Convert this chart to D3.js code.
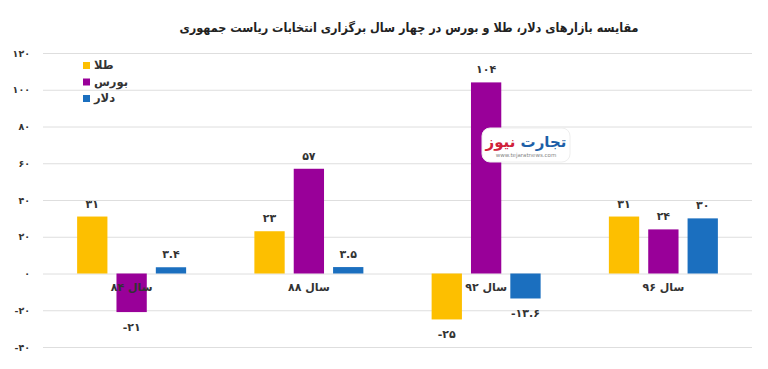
<!DOCTYPE html>
<html>
<head>
<meta charset="utf-8">
<script src="https://cdn.jsdelivr.net/npm/d3@7"></script>
<style>
  body { margin: 0; background: #fff; }
  text { font-family: "DejaVu Sans", sans-serif; }
</style>
</head>
<body>
<div class="chart"></div>
<script>
// data
var years = ["سال ۸۴", "سال ۸۸", "سال ۹۲", "سال ۹۶"];
var seriesNames = ["طلا", "بورس", "دلار"];
var gold = [31, 23, -25, 31];
var bourse = [-21, 57, 104, 24];
var dollar = [3.4, 3.5, -13.6, 30];
var yTicks = [-40, -20, 0, 20, 40, 60, 80, 100, 120];
var colors = ["#FDBF00", "#990099", "#1B6FBF"];

var seriesValues = [gold, bourse, dollar];

// persian digits
function fa(n) {
  return String(n).replace(/\d/g, function(c) { return "۰۱۲۳۴۵۶۷۸۹"[+c]; });
}

var W = 768, H = 369;
var svg = d3.select(".chart").append("svg")
    .attr("width", W)
    .attr("height", H);

var x0 = d3.scaleBand().domain(years).range([43, 752]).padding(0);
var x1 = d3.scaleBand().domain(seriesNames).range([0, 109]).paddingInner(0.23);
var y = d3.scaleLinear().domain([-40, 120]).range([347, 53]);

// title
svg.append("text")
  .attr("x", 409).attr("y", 32)
  .attr("text-anchor", "middle")
  .attr("direction", "rtl")
  .style("font-family", "'DejaVu Sans Condensed', 'DejaVu Sans'")
  .style("font-stretch", "condensed")
  .style("font-size", "12.5px")
  .style("font-weight", "bold")
  .attr("fill", "#222")
  .text("مقایسه بازارهای دلار، طلا و بورس در چهار سال برگزاری انتخابات ریاست جمهوری");

// grid + y tick labels
var yAxis = svg.append("g")
  .attr("transform", "translate(43,0)")
  .call(d3.axisLeft(y).tickValues(yTicks).tickSize(-709).tickFormat(fa));
yAxis.select(".domain").remove();
yAxis.selectAll("line").attr("stroke", "#dedede").attr("stroke-width", 1);
yAxis.selectAll("text")
  .attr("x", -13)
  .attr("fill", "#333")
  .style("font-size", "9.5px")
  .style("font-weight", "bold")
  .style("font-family", "DejaVu Sans");

// bars
var rows = [];
years.forEach(function(yr, i) {
  seriesNames.forEach(function(s, j) {
    rows.push({ year: yr, name: s, value: seriesValues[j][i], color: colors[j] });
  });
});

svg.selectAll(".bar").data(rows).enter().append("rect")
  .attr("class", "bar")
  .attr("x", function(d) { return x0(d.year) + (x0.bandwidth() - 109) / 2 + x1(d.name); })
  .attr("width", x1.bandwidth())
  .attr("y", function(d) { return y(Math.max(0, d.value)); })
  .attr("height", function(d) { return Math.abs(y(d.value) - y(0)); })
  .attr("fill", function(d) { return d.color; });

// value labels
svg.selectAll(".lbl").data(rows).enter().append("text")
  .attr("class", "lbl")
  .attr("x", function(d) { return x0(d.year) + (x0.bandwidth() - 109) / 2 + x1(d.name) + x1.bandwidth() / 2; })
  .attr("y", function(d) { return d.value >= 0 ? y(d.value) - 9 : y(d.value) + 19; })
  .attr("text-anchor", "middle")
  .attr("direction", "ltr")
  .attr("fill", "#333")
  .style("font-size", "11px")
  .style("font-weight", "bold")
  .text(function(d) { return fa(d.value); });

// category labels at zero line
var xAxis = svg.append("g")
  .attr("transform", "translate(0," + y(0) + ")")
  .call(d3.axisBottom(x0).tickSize(0).tickPadding(10));
xAxis.select(".domain").remove();
xAxis.selectAll("text")
  .attr("fill", "#333")
  .attr("direction", "rtl")
  .style("font-size", "11px")
  .style("font-weight", "bold")
  .style("font-family", "DejaVu Sans");

// legend
var legend = svg.append("g").attr("transform", "translate(83,62)");
seriesNames.forEach(function(s, i) {
  legend.append("rect")
    .attr("x", 0).attr("y", i * 16.5)
    .attr("width", 7).attr("height", 7)
    .attr("fill", colors[i]);
  legend.append("text")
    .attr("x", 11).attr("y", i * 16.5 + 7)
    .attr("fill", "#333")
    .style("font-size", "11.5px")
    .style("font-weight", "bold")
    .text(s);
});

// watermark
var wm = svg.append("g").attr("transform", "translate(482,128)");
wm.append("rect")
  .attr("width", 88).attr("height", 34).attr("rx", 8)
  .attr("fill", "#fff")
  .attr("stroke", "#eee");
wm.append("text")
  .attr("x", 44).attr("y", 19)
  .attr("text-anchor", "middle")
  .attr("direction", "rtl")
  .style("font-size", "15px")
  .style("font-weight", "bold")
  .html('<tspan fill="#1d5fa8">تجارت</tspan> <tspan fill="#d0213a">نیوز</tspan>');
wm.append("text")
  .attr("x", 44).attr("y", 29)
  .attr("text-anchor", "middle")
  .attr("fill", "#888")
  .style("font-size", "5.5px")
  .text("www.tejaratnews.com");
</script>
</body>
</html>
